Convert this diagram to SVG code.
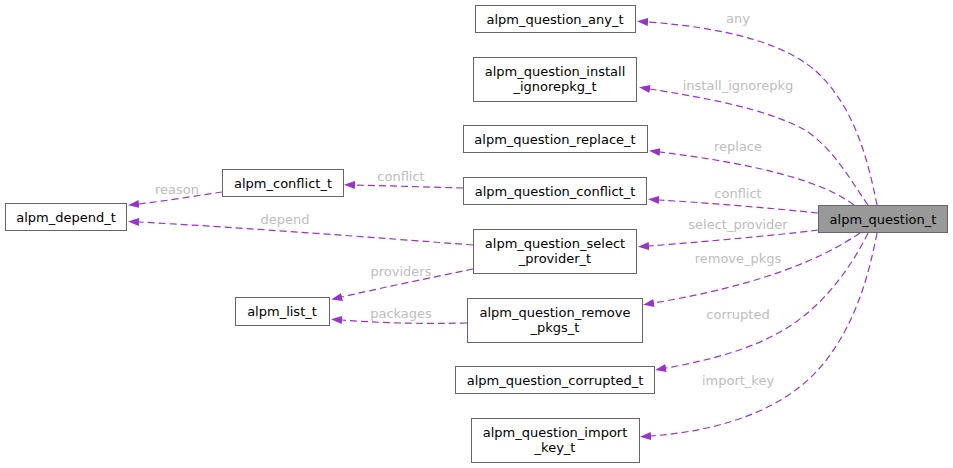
<svg xmlns="http://www.w3.org/2000/svg" width="953" height="468" viewBox="0 0 953 468">
<style>
.node rect{fill:#ffffff;stroke:#666666;stroke-width:1}
.node.main rect{fill:#999999}
.node text{font-family:"DejaVu Sans",sans-serif;font-size:13px;fill:#000000;text-anchor:middle}
.edge path{fill:none;stroke:#9a32cd;stroke-width:1.2;stroke-dasharray:7,4;marker-end:url(#arr)}
.edge text{font-family:"DejaVu Sans",sans-serif;font-size:13px;fill:#bdbdbd;text-anchor:middle}
</style>
<defs>
<marker id="arr" viewBox="0 0 11 8" refX="0" refY="4" markerWidth="11" markerHeight="8" markerUnits="userSpaceOnUse" orient="auto">
<path d="M0,0 L11,4 L0,8 z" fill="#9a32cd" stroke="none"/>
</marker>
</defs>
<rect width="953" height="468" fill="#ffffff"/>
<g id="edges" class="edge">
<path d="M877,205 C868,160 855,110 820,75 C790,45 730,28 648,22"/>
<text x="738" y="23">any</text>
<path d="M868,205 C850,180 835,150 805,130 C765,108 700,97 650,89"/>
<text x="738" y="90">install_ignorepkg</text>
<path d="M854,205 C825,183 765,165 660,152"/>
<text x="738" y="151">replace</text>
<path d="M818,213 C770,208 710,203 659,200"/>
<text x="738" y="198">conflict</text>
<path d="M818,230 C770,236 700,242 649,246"/>
<text x="738" y="229">select_provider</text>
<path d="M860,233 C820,260 760,285 654,303"/>
<text x="738" y="263">remove_pkgs</text>
<path d="M868,233 C850,270 820,310 780,332 C745,352 700,362 666,368"/>
<text x="738" y="319">corrupted</text>
<path d="M877,233 C868,280 855,320 830,355 C795,405 730,430 651,436"/>
<text x="738" y="385">import_key</text>
<path d="M463,188 C430,187 390,186 355,185"/>
<text x="401" y="181">conflict</text>
<path d="M222,192 C195,196 165,201 139,204"/>
<text x="177" y="194">reason</text>
<path d="M473,245 C380,238 250,228 139,222"/>
<text x="285" y="224">depend</text>
<path d="M473,269 C430,278 380,288 342,297"/>
<text x="401" y="276">providers</text>
<path d="M467,323 C420,324 380,323 342,320"/>
<text x="401" y="318">packages</text>
</g>
<g id="alpm_question_t" class="node main"><rect x="818.5" y="205.5" width="129" height="27"/><text x="883" y="223.5">alpm_question_t</text></g>
<g id="alpm_question_any_t" class="node"><rect x="475.5" y="5.5" width="160" height="27"/><text x="555" y="23.5">alpm_question_any_t</text></g>
<g id="alpm_question_install_ignorepkg_t" class="node"><rect x="473.5" y="57.5" width="163" height="44"/><text x="555" y="75.5">alpm_question_install</text><text x="555" y="91">_ignorepkg_t</text></g>
<g id="alpm_question_replace_t" class="node"><rect x="463.5" y="125.5" width="184" height="27"/><text x="555" y="143.5">alpm_question_replace_t</text></g>
<g id="alpm_question_conflict_t" class="node"><rect x="463.5" y="177.5" width="183" height="27"/><text x="555" y="195.5">alpm_question_conflict_t</text></g>
<g id="alpm_question_select_provider_t" class="node"><rect x="473.5" y="229.5" width="163" height="44"/><text x="555" y="247.5">alpm_question_select</text><text x="555" y="263">_provider_t</text></g>
<g id="alpm_question_remove_pkgs_t" class="node"><rect x="467.5" y="298.5" width="175" height="44"/><text x="555" y="316.5">alpm_question_remove</text><text x="555" y="332">_pkgs_t</text></g>
<g id="alpm_question_corrupted_t" class="node"><rect x="455.5" y="366.5" width="199" height="27"/><text x="555" y="384.5">alpm_question_corrupted_t</text></g>
<g id="alpm_question_import_key_t" class="node"><rect x="471.5" y="418.5" width="168" height="44"/><text x="555" y="436.5">alpm_question_import</text><text x="555" y="452">_key_t</text></g>
<g id="alpm_conflict_t" class="node"><rect x="222.5" y="169.5" width="121" height="27"/><text x="283" y="187.5">alpm_conflict_t</text></g>
<g id="alpm_depend_t" class="node"><rect x="5.5" y="203.5" width="121" height="27"/><text x="66" y="221.5">alpm_depend_t</text></g>
<g id="alpm_list_t" class="node"><rect x="235.5" y="297.5" width="94" height="28"/><text x="282" y="315.5">alpm_list_t</text></g>
</svg>
